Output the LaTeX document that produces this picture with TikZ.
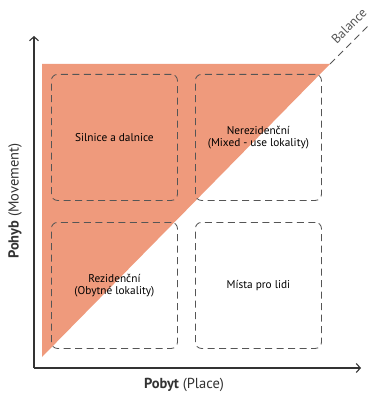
\documentclass[tikz,border=0pt]{standalone}
\usepackage{fontspec}
\setmainfont{PT Sans}
\usetikzlibrary{arrows.meta}
\definecolor{salmon}{RGB}{239,154,124}
\definecolor{axisgray}{RGB}{51,51,51}
\definecolor{dashgray}{RGB}{85,85,85}
\begin{document}
\begin{tikzpicture}[x=1pt,y=-1pt,
  dashes/.style={draw=dashgray,line width=0.85pt,dash pattern=on 7pt off 4.5pt},
  quad/.style={dashes,rounded corners=6pt,
    minimum width=126pt,minimum height=126pt,inner sep=0pt,anchor=north west,
    align=center,font=\fontsize{11.3}{11.5}\selectfont,text=black},
  axis/.style={draw=axisgray,line width=1.3pt,-{Straight Barb[length=4pt,width=9pt,line width=1.1pt]}},
  axlabel/.style={font=\fontsize{14.5}{16}\selectfont,text=axisgray}]
\useasboundingbox (0,0) rectangle (369,395);
\coordinate (tl) at (42,64);
\coordinate (tr) at (330,64);
\coordinate (bl) at (42,357);
\coordinate (bend) at (371,23);
\fill[salmon] (tl) -- (tr) -- (bl) -- cycle;
\draw[dashes] (tr) -- (bend);
\node[rotate=45,font=\fontsize{13}{14}\selectfont,text=dashgray,inner sep=0pt] (bal) at (349,26) {Balance};
\node[quad] (q1) at (51,74) {Silnice a dalnice};
\node[quad] (q2) at (195,74) {Nerezidenční\\(Mixed - use lokality)};
\node[quad] (q3) at (51,222) {Rezidenční\\(Obytné lokality)};
\node[quad] (q4) at (195,222) {Místa pro lidi};
\coordinate (o) at (34,368);
\coordinate (ytop) at (34,36);
\coordinate (xend) at (361,368);
\draw[axis] (o) -- (ytop);
\draw[axis] (o) -- (xend);
\node[axlabel] (xl) at (184,385) {\textbf{Pobyt} (Place)};
\node[axlabel,rotate=90] (yl) at (15,201) {\textbf{Pohyb} (Movement)};
\end{tikzpicture}
\end{document}
